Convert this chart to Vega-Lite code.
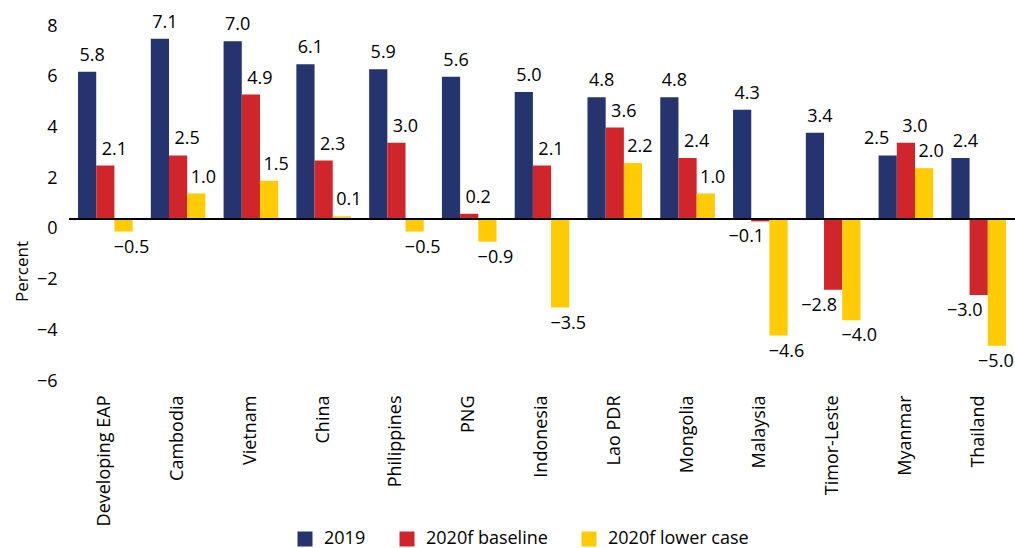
{
  "$schema": "https://vega.github.io/schema/vega-lite/v6.json",
  "width": 946,
  "height": 355,
  "autosize": {"type": "none"},
  "padding": {"left": 69, "top": 16, "right": 0, "bottom": 177},
  "background": "white",
  "config": {
    "view": {"stroke": null},
    "font": "Open Sans",
    "text": {"font": "Open Sans", "fontSize": 18, "color": "black"}
  },
  "data": {
    "values": [
      {"country": "Developing EAP", "series": "2019", "value": 5.8},
      {"country": "Developing EAP", "series": "2020f baseline", "value": 2.1},
      {"country": "Developing EAP", "series": "2020f lower case", "value": -0.5},
      {"country": "Cambodia", "series": "2019", "value": 7.1},
      {"country": "Cambodia", "series": "2020f baseline", "value": 2.5},
      {"country": "Cambodia", "series": "2020f lower case", "value": 1.0},
      {"country": "Vietnam", "series": "2019", "value": 7.0},
      {"country": "Vietnam", "series": "2020f baseline", "value": 4.9},
      {"country": "Vietnam", "series": "2020f lower case", "value": 1.5},
      {"country": "China", "series": "2019", "value": 6.1},
      {"country": "China", "series": "2020f baseline", "value": 2.3},
      {"country": "China", "series": "2020f lower case", "value": 0.1},
      {"country": "Philippines", "series": "2019", "value": 5.9},
      {"country": "Philippines", "series": "2020f baseline", "value": 3.0},
      {"country": "Philippines", "series": "2020f lower case", "value": -0.5},
      {"country": "PNG", "series": "2019", "value": 5.6},
      {"country": "PNG", "series": "2020f baseline", "value": 0.2},
      {"country": "PNG", "series": "2020f lower case", "value": -0.9},
      {"country": "Indonesia", "series": "2019", "value": 5.0},
      {"country": "Indonesia", "series": "2020f baseline", "value": 2.1},
      {"country": "Indonesia", "series": "2020f lower case", "value": -3.5},
      {"country": "Lao PDR", "series": "2019", "value": 4.8},
      {"country": "Lao PDR", "series": "2020f baseline", "value": 3.6},
      {"country": "Lao PDR", "series": "2020f lower case", "value": 2.2},
      {"country": "Mongolia", "series": "2019", "value": 4.8},
      {"country": "Mongolia", "series": "2020f baseline", "value": 2.4},
      {"country": "Mongolia", "series": "2020f lower case", "value": 1.0},
      {"country": "Malaysia", "series": "2019", "value": 4.3},
      {"country": "Malaysia", "series": "2020f baseline", "value": -0.1},
      {"country": "Malaysia", "series": "2020f lower case", "value": -4.6},
      {"country": "Timor-Leste", "series": "2019", "value": 3.4},
      {"country": "Timor-Leste", "series": "2020f baseline", "value": -2.8},
      {"country": "Timor-Leste", "series": "2020f lower case", "value": -4.0},
      {"country": "Myanmar", "series": "2019", "value": 2.5},
      {"country": "Myanmar", "series": "2020f baseline", "value": 3.0},
      {"country": "Myanmar", "series": "2020f lower case", "value": 2.0},
      {"country": "Thailand", "series": "2019", "value": 2.4},
      {"country": "Thailand", "series": "2020f baseline", "value": -3.0},
      {"country": "Thailand", "series": "2020f lower case", "value": -5.0}
    ]
  },
  "encoding": {
    "x": {
      "field": "country",
      "type": "nominal",
      "sort": null,
      "scale": {"paddingInner": 0.25, "paddingOuter": 0.124},
      "axis": {
        "title": null,
        "domain": false,
        "ticks": false,
        "labelAngle": 270,
        "labelAlign": "right",
        "labelBaseline": "middle",
        "labelPadding": 24,
        "labelFontSize": 18,
        "labelColor": "black",
        "labelFont": "Open Sans"
      }
    },
    "xOffset": {
      "field": "series",
      "type": "nominal",
      "sort": ["2019", "2020f baseline", "2020f lower case"],
      "scale": {"paddingInner": 0, "paddingOuter": 0}
    },
    "y": {
      "field": "value",
      "type": "quantitative",
      "scale": {"domain": [-6, 8], "nice": false, "zero": false},
      "axis": {
        "title": "Percent",
        "values": [-6, -4, -2, 0, 2, 4, 6, 8],
        "grid": false,
        "domain": false,
        "ticks": false,
        "labelFontSize": 18,
        "labelColor": "black",
        "labelFont": "Open Sans",
        "labelPadding": 12,
        "labelOffset": 10,
        "titleFont": "Open Sans",
        "titleFontSize": 17,
        "titleFontWeight": "normal",
        "titleColor": "black",
        "titleX": -47,
        "titleY": 255,
        "titleAngle": 270,
        "titleAlign": "center",
        "titleBaseline": "middle"
      }
    },
    "text": {"field": "value", "type": "quantitative", "format": ".1f"}
  },
  "layer": [
    {
      "mark": {"type": "bar"},
      "encoding": {
        "text": null,
        "color": {
          "field": "series",
          "type": "nominal",
          "sort": ["2019", "2020f baseline", "2020f lower case"],
          "scale": {
            "domain": ["2019", "2020f baseline", "2020f lower case"],
            "range": ["#25346e", "#d0262b", "#ffcb05"]
          },
          "legend": {
            "title": null,
            "orient": "none",
            "direction": "horizontal",
            "legendX": 227,
            "legendY": 514,
            "symbolType": "square",
            "symbolSize": 225,
            "symbolStrokeWidth": 0,
            "labelFontSize": 18,
            "labelFont": "Open Sans",
            "labelColor": "black",
            "labelOffset": 10,
            "columnPadding": 32
          }
        }
      }
    },
    {
      "mark": {"type": "rule", "color": "black", "strokeWidth": 1.5},
      "encoding": {"y": {"datum": 0}, "x": null, "xOffset": null, "text": null}
    },
    {
      "transform": [{"filter": "datum.series == '2019' && datum.country != 'Myanmar'"}],
      "mark": {"type": "text", "baseline": "bottom", "dy": -7, "dx": 5}
    },
    {
      "transform": [{"filter": "datum.series == '2019' && datum.country == 'Myanmar'"}],
      "mark": {"type": "text", "baseline": "bottom", "dy": -7, "dx": -11}
    },
    {
      "transform": [{"filter": "datum.series == '2020f baseline' && datum.value >= 0"}],
      "mark": {"type": "text", "baseline": "bottom", "dy": -7, "dx": 9}
    },
    {
      "transform": [{"filter": "datum.series == '2020f baseline' && datum.value < 0"}],
      "mark": {"type": "text", "baseline": "top", "dy": 7, "dx": -14}
    },
    {
      "transform": [{"filter": "datum.series == '2020f lower case' && datum.value >= 0"}],
      "mark": {"type": "text", "baseline": "bottom", "dy": -7, "dx": 7}
    },
    {
      "transform": [{"filter": "datum.series == '2020f lower case' && datum.value < 0 && datum.country != 'Thailand'"}],
      "mark": {"type": "text", "baseline": "top", "dy": 7, "dx": 8}
    },
    {
      "transform": [{"filter": "datum.series == '2020f lower case' && datum.country == 'Thailand'"}],
      "mark": {"type": "text", "baseline": "top", "dy": 7, "dx": -1}
    }
  ]
}
